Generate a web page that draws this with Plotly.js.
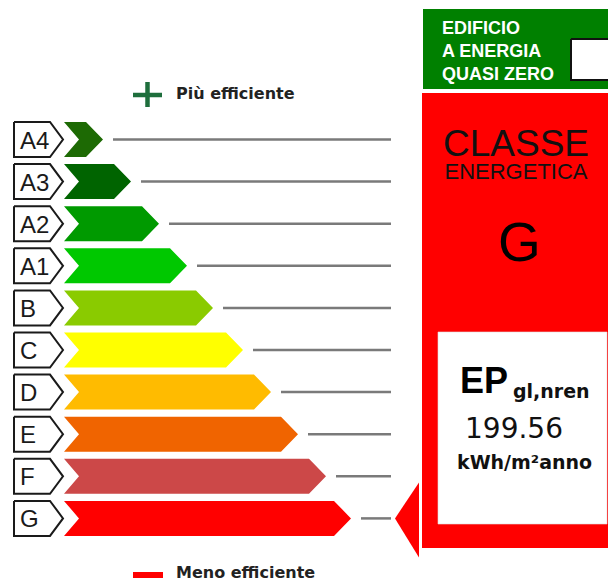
<!DOCTYPE html>
<html>
<head>
<meta charset="utf-8">
<script src="https://cdn.plot.ly/plotly-3.0.1.min.js"></script>
<style>html,body{margin:0;padding:0;background:#fff;}#chart{width:608px;height:581px;}</style>
</head>
<body>
<div id="chart"></div>
<script>
// ---- data ----
const classes = ['A4','A3','A2','A1','B','C','D','E','F','G'];
const barColors = ['#1d6a04','#006400','#009a00','#00c800','#8acb00','#ffff00','#ffbb00','#f06400','#cc4848','#ff0000'];
const barLength = [39, 67, 95, 123, 149, 179, 207, 234, 262, 287];
const ratedClass = 'G';
const epValue = '199.56';
const epUnit = 'kWh/m²anno';
const nzebLines = ['EDIFICIO','A ENERGIA','QUASI ZERO'];
const topLabel = 'Più efficiente';
const bottomLabel = 'Meno efficiente';

// ---- layout constants (style) ----
const W = 608, H = 581;
const rowTop0 = 122, rowPitch = 42.1, rowH = 35;
const labelL = 14, labelR = 50, labelTip = 63;
const barL = 64, notch = 15, tipD = 17;
const lineGap = 10, lineEnd = 391;
const panelL = 422;

const traces = [];
const rMid = i => rowTop0 + i*rowPitch + rowH/2;
const rTop = i => rowTop0 + i*rowPitch;
const rBot = i => rowTop0 + i*rowPitch + rowH;

classes.forEach((c, i) => {
  traces.push({type:'scatter', mode:'lines', fill:'toself', fillcolor:'#ffffff',
    x:[labelL, labelR, labelTip, labelR, labelL, labelL],
    y:[rTop(i), rTop(i), rMid(i), rBot(i), rBot(i), rTop(i)],
    line:{color:'#1a1a1a', width:2}, hoverinfo:'skip', showlegend:false});
  const tip = barL + barLength[i];
  traces.push({type:'scatter', mode:'lines', fill:'toself', fillcolor:barColors[i],
    x:[barL, tip - tipD, tip, tip - tipD, barL, barL + notch, barL],
    y:[rTop(i), rTop(i), rMid(i), rBot(i), rBot(i), rMid(i), rTop(i)],
    line:{color:barColors[i], width:0}, hoverinfo:'skip', showlegend:false});
});
const lx = [], ly = [];
classes.forEach((c, i) => {
  lx.push(barL + barLength[i] + lineGap, lineEnd, null);
  ly.push(rMid(i), rMid(i), null);
});
traces.push({type:'scatter', mode:'lines', x:lx, y:ly, line:{color:'#7a7a7a', width:2.5}, hoverinfo:'skip', showlegend:false});

const ri = classes.indexOf(ratedClass);
const rColor = barColors[ri];
traces.push({type:'scatter', mode:'lines', fill:'toself', fillcolor:rColor,
  x:[panelL, W, W, panelL, panelL], y:[93, 93, 548, 548, 93],
  line:{width:0, color:rColor}, hoverinfo:'skip', showlegend:false});
traces.push({type:'scatter', mode:'lines', fill:'toself', fillcolor:'#ffffff',
  x:[438, 607, 607, 438, 438], y:[332, 332, 524, 524, 332],
  line:{width:0.6, color:'#dddddd'}, hoverinfo:'skip', showlegend:false});
traces.push({type:'scatter', mode:'lines', fill:'toself', fillcolor:rColor,
  x:[395, 419, 419, 395], y:[rMid(ri), rMid(ri) - 36, rMid(ri) + 39, rMid(ri)],
  line:{width:0, color:rColor}, hoverinfo:'skip', showlegend:false});
traces.push({type:'scatter', mode:'lines', fill:'toself', fillcolor:'#008000',
  x:[423, W, W, 423, 423], y:[9, 9, 89, 89, 9],
  line:{width:0, color:'#008000'}, hoverinfo:'skip', showlegend:false});
traces.push({type:'scatter', mode:'lines', fill:'toself', fillcolor:'#ffffff',
  x:[571, 612, 612, 571, 571], y:[39, 39, 80, 80, 39],
  line:{width:2, color:'#111111'}, hoverinfo:'skip', showlegend:false});
traces.push({type:'scatter', mode:'lines', x:[133, 162, null, 147.5, 147.5], y:[95, 95, null, 82, 107],
  line:{color:'#1e6e3c', width:4.5}, hoverinfo:'skip', showlegend:false});
traces.push({type:'scatter', mode:'lines', x:[133, 163], y:[575, 575],
  line:{color:'#ff0000', width:6}, hoverinfo:'skip', showlegend:false});

const ann = [];
const A = (x, y, text, size, opts) => ann.push(Object.assign({x, y, text, xref:'x', yref:'y', showarrow:false,
  xanchor:'left', yanchor:'middle', font:{family:'Liberation Sans, Arial, sans-serif', size, color:'#1a1a1a'}}, opts||{}));

classes.forEach((c, i) => A(18, rMid(i) + 0.5, c, 24, {}));
A(174, 93, '<b>' + topLabel + '</b>', 16, {font:{family:'DejaVu Sans', size:16, color:'#222'}});
A(174, 572.5, '<b>' + bottomLabel + '</b>', 16, {font:{family:'DejaVu Sans', size:16, color:'#222'}});
nzebLines.forEach((t, k) => A(440, 27.5 + k*23, '<b>' + t + '</b>', 18, {font:{family:'Liberation Sans', size:18, color:'#ffffff'}}));
A(516, 153.5, '<span style="font-size:37px">CLASSE</span><br><span style="font-size:22px">ENERGETICA</span>', 18,
  {xanchor:'center', align:'center', font:{family:'Liberation Sans', size:18, color:'#111'}});
A(519, 242, ratedClass, 55, {xanchor:'center', font:{family:'Liberation Sans', size:55, color:'#000'}});
A(458, 380, '<b>EP</b>', 36, {font:{family:'Liberation Sans', size:36, color:'#000'}});
A(511, 391, '<b>gl,nren</b>', 22, {font:{family:'DejaVu Sans', size:19, color:'#111'}});
A(514, 428, epValue, 28, {xanchor:'center', font:{family:'DejaVu Sans', size:28, color:'#111'}});
A(524, 462, '<b>' + epUnit + '</b>', 19, {xanchor:'center', font:{family:'DejaVu Sans', size:19, color:'#111'}});

const layout = {
  width: W, height: H, margin:{l:0, r:0, t:0, b:0},
  paper_bgcolor:'#ffffff', plot_bgcolor:'#ffffff',
  xaxis:{range:[0, W], visible:false, fixedrange:true},
  yaxis:{range:[H, 0], visible:false, fixedrange:true},
  annotations: ann, showlegend:false
};
Plotly.newPlot('chart', traces, layout, {displayModeBar:false, staticPlot:true});
</script>
</body>
</html>
